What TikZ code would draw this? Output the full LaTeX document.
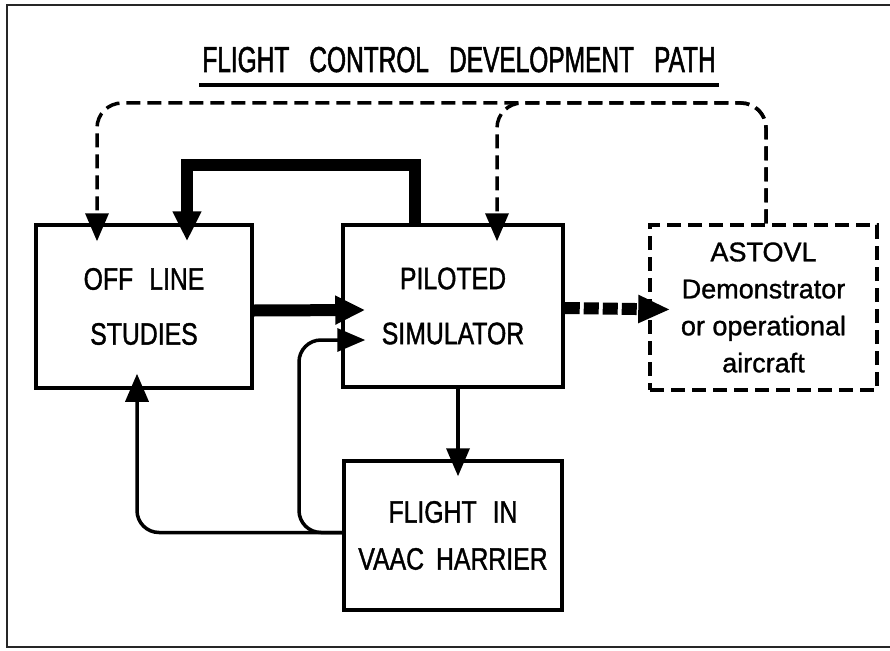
\documentclass[tikz,border=0pt]{standalone}
\usepackage{fontspec}
\newfontfamily\lfont[FakeStretch=0.8,FakeBold=1.2]{Liberation Sans}
\newfontfamily\tfont[FakeStretch=0.68,FakeBold=1.4]{Liberation Sans}
\newfontfamily\lfontw[FakeBold=1.1]{Liberation Sans}
\usetikzlibrary{arrows.meta,calc}
\newcommand\wsp{\hspace{16pt}}
\newcommand\tsp{\hspace{20pt}}
\begin{document}
\begin{tikzpicture}[x=1pt,y=-1pt,
  box/.style={draw, line width=3.5pt, inner sep=0pt, align=center,
    font=\lfont\fontsize{31}{55}\selectfont},
  conn/.style={line width=3.5pt, -{Triangle[length=28pt,width=23pt]}},
  heavy/.style={line width=12pt, line join=miter, -{Triangle[length=30pt,width=27pt]}},
  dsh/.style={line width=3.5pt, dash pattern=on 14pt off 7pt, rounded corners=25pt,
    -{Triangle[length=28pt,width=23pt]}}]
\useasboundingbox (0,0) rectangle (890,650);
\fill[white] (0,0) rectangle (890,650);
% frame
\draw[line width=2pt, black!85] (890,5) -- (7,5) -- (7,647) -- (890,647);
% title
\node[font=\tfont\fontsize{36}{40}\selectfont, anchor=base, inner sep=0pt] (title) at (459,72)
  {FLIGHT\tsp CONTROL\tsp DEVELOPMENT\tsp PATH};
\draw[line width=3.5pt] ([xshift=-3pt,yshift=-13pt]title.base west) -- ([xshift=3pt,yshift=-13pt]title.base east);
% boxes
\node[box, minimum width=216pt, minimum height=163pt] (off) at (144,306.5) {OFF\wsp LINE\\STUDIES};
\node[box, minimum width=220pt, minimum height=162pt] (pil) at (453,306) {PILOTED\\SIMULATOR};
\node[box, minimum width=218pt, minimum height=149pt,
  font=\lfont\fontsize{31}{47}\selectfont] (flt) at (453,535.5) {FLIGHT\wsp IN\\VAAC\hspace{12pt}HARRIER};
\node[box, dash pattern=on 14pt off 7pt, minimum width=227pt, minimum height=165pt,
  font=\lfontw\fontsize{27}{37}\selectfont] (ast) at (763.5,307.5)
  {ASTOVL\\Demonstrator\\or operational\\aircraft};
% connectors
\coordinate (tk) at (187,165);
\draw[heavy] ([xshift=-38pt]pil.north) |- (tk) -- ([xshift=43pt,yshift=-18pt]off.north);
\draw[heavy] ([yshift=-4pt]off.east) -- ([xshift=24pt,yshift=-4pt]pil.west);
\draw[conn] ([xshift=5pt]pil.south) -- ([xshift=5pt,yshift=-17pt]flt.north);
\coordinate (fw) at ([yshift=3pt]flt.west);
\coordinate (jx) at (299,440);
\draw[conn, rounded corners=22pt] (fw) -| ([xshift=-7pt,yshift=16pt]off.south);
\draw[conn, rounded corners=22pt] (fw) -| (jx) |- ([xshift=24pt,yshift=-34pt]pil.west);
\draw[line width=12pt, dash pattern=on 15pt off 4pt, -{Triangle[length=32pt,width=26pt]}]
  ([yshift=-2pt]pil.east) -- ([xshift=22pt,yshift=-2pt]ast.west);
\coordinate (dl) at (97,103);
\coordinate (dm) at (497,103);
\draw[dsh] ([xshift=2.5pt]ast.north) |- (dl) -- ([xshift=-47pt,yshift=-18pt]off.north);
\draw[dsh] ([xshift=2.5pt]ast.north) |- (dm) -- ([xshift=44pt,yshift=-18pt]pil.north);
\end{tikzpicture}
\end{document}
